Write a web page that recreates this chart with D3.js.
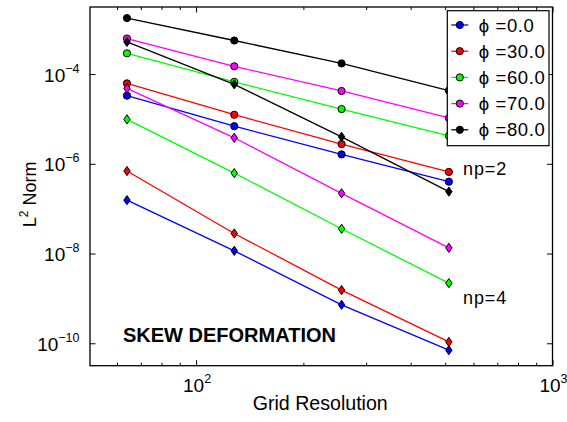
<!DOCTYPE html>
<html>
<head>
<meta charset="utf-8">
<script src="https://cdn.jsdelivr.net/npm/d3@7"></script>
<style>
  body { margin: 0; background: #fff; }
  svg { font-family: "Liberation Sans", Arial, sans-serif; }
</style>
</head>
<body>
<div id="chart"></div>
<script>
// grid sizes
var resolution = [64, 128, 256, 512];
var phiLabels = ["0.0", "30.0", "60.0", "70.0", "80.0"];
var colors = ["#0000ff", "#ff0000", "#00ff00", "#ff00ff", "#000000"];

// np=2 runs (circles)
var np2_phi0  = [3.3e-5, 6.9e-6, 1.62e-6, 4.0e-7];
var np2_phi30 = [6.2e-5, 1.24e-5, 2.75e-6, 6.6e-7];
var np2_phi60 = [2.9e-4, 6.7e-5, 1.66e-5, 4.2e-6];
var np2_phi70 = [6.2e-4, 1.49e-4, 4.2e-5, 1.05e-5];
var np2_phi80 = [1.77e-3, 5.6e-4, 1.73e-4, 4.3e-5];

// np=4 runs (diamonds)
var np4_phi0  = [1.55e-7, 1.15e-8, 7.2e-10, 7.0e-11];
var np4_phi30 = [6.9e-7, 2.8e-8, 1.53e-9, 1.07e-10];
var np4_phi60 = [9.8e-6, 6.2e-7, 3.56e-8, 2.19e-9];
var np4_phi70 = [4.8e-5, 3.8e-6, 2.2e-7, 1.34e-8];
var np4_phi80 = [5.2e-4, 5.9e-5, 4.0e-6, 2.4e-7];

var np2 = [np2_phi0, np2_phi30, np2_phi60, np2_phi70, np2_phi80];
var np4 = [np4_phi0, np4_phi30, np4_phi60, np4_phi70, np4_phi80];

// tick values
var xMajor = [100, 1000];
var xMinor = [60, 70, 80, 90, 200, 300, 400, 500, 600, 700, 800, 900];
var yMajor = [1e-4, 1e-6, 1e-8, 1e-10];

var svgWidth = 567;
var svgHeight = 422;
var margin = { top: 7, right: 14.5, bottom: 56.3, left: 90 };
var width = svgWidth - margin.left - margin.right;
var height = svgHeight - margin.top - margin.bottom;

var svg = d3.select("#chart")
    .append("svg")
    .attr("width", svgWidth)
    .attr("height", svgHeight);

var chartGroup = svg.append("g")
    .attr("transform", `translate(${margin.left},${margin.top})`);

var xScale = d3.scaleLog()
    .domain([50.4, 1000])
    .range([0, width]);

var yScale = d3.scaleLog()
    .domain([Math.pow(10, -10.5), Math.pow(10, -2.505)])
    .range([height, 0]);

// ticks pointing inward, all four sides
function tickAxis(axisFn, scale, values, size, tx, ty) {
    chartGroup.append("g")
        .attr("transform", `translate(${tx},${ty})`)
        .call(axisFn(scale).tickValues(values).tickSize(size).tickFormat(""))
        .call(g => g.select(".domain").remove())
        .selectAll("line").attr("stroke", "#000").attr("stroke-width", 1);
}
tickAxis(d3.axisBottom, xScale, xMajor, -5.5, 0, height);
tickAxis(d3.axisBottom, xScale, xMinor, -3, 0, height);
tickAxis(d3.axisTop, xScale, xMajor, -5.5, 0, 0);
tickAxis(d3.axisTop, xScale, xMinor, -3, 0, 0);
tickAxis(d3.axisLeft, yScale, yMajor, -5.5, 0, 0);
tickAxis(d3.axisRight, yScale, yMajor, -5.5, width, 0);

// frame
chartGroup.append("rect")
    .attr("x", 0).attr("y", 0)
    .attr("width", width).attr("height", height)
    .attr("fill", "none")
    .attr("stroke", "#000")
    .attr("stroke-width", 1.3);

// tick labels with superscript exponents
chartGroup.selectAll(".xlab")
    .data(xMajor)
    .enter()
    .append("text")
    .attr("x", d => xScale(d) + 1)
    .attr("y", height + 26.5)
    .attr("text-anchor", "middle")
    .attr("font-size", "19px")
    .each(function(d) {
        var t = d3.select(this);
        t.append("tspan").text("10");
        t.append("tspan").attr("font-size", "12.5px").attr("dy", -9)
            .text(Math.round(Math.log10(d)));
    });

chartGroup.selectAll(".ylab")
    .data(yMajor)
    .enter()
    .append("text")
    .attr("x", -10.5)
    .attr("y", d => yScale(d) + 7.5)
    .attr("text-anchor", "end")
    .attr("font-size", "19px")
    .each(function(d) {
        var t = d3.select(this);
        t.append("tspan").text("10");
        t.append("tspan").attr("font-size", "12.5px").attr("dy", -9)
            .text("\u2212" + Math.abs(Math.round(Math.log10(d))));
    });

// axis titles
chartGroup.append("text")
    .attr("x", width / 2 - 1)
    .attr("y", height + 44.5)
    .attr("text-anchor", "middle")
    .attr("font-size", "19.6px")
    .text("Grid Resolution");

var yTitle = chartGroup.append("text")
    .attr("transform", `translate(${36 - margin.left},${height / 2 + 8}) rotate(-90)`)
    .attr("text-anchor", "middle")
    .attr("font-size", "18px");
yTitle.append("tspan").text("L");
yTitle.append("tspan").attr("font-size", "12px").attr("dy", -8).text("2");
yTitle.append("tspan").attr("dy", 8).text(" Norm");

var line = d3.line()
    .x((d, i) => xScale(resolution[i]))
    .y(d => yScale(d));

var diamond = "M0,-4.6L3.2,0L0,4.6L-3.2,0Z";

// series: np=2 with circles, np=4 with diamonds
colors.forEach(function(c, k) {
    chartGroup.append("path")
        .datum(np2[k])
        .attr("d", line)
        .attr("fill", "none")
        .attr("stroke", c)
        .attr("stroke-width", 1.3);
    chartGroup.selectAll(".c" + k)
        .data(np2[k])
        .enter()
        .append("circle")
        .attr("cx", (d, i) => xScale(resolution[i]))
        .attr("cy", d => yScale(d))
        .attr("r", 3.6)
        .attr("fill", c)
        .attr("stroke", "#000")
        .attr("stroke-width", 1);

    chartGroup.append("path")
        .datum(np4[k])
        .attr("d", line)
        .attr("fill", "none")
        .attr("stroke", c)
        .attr("stroke-width", 1.3);
    chartGroup.selectAll(".d" + k)
        .data(np4[k])
        .enter()
        .append("path")
        .attr("d", diamond)
        .attr("transform", (d, i) => `translate(${xScale(resolution[i])},${yScale(d)})`)
        .attr("fill", c)
        .attr("stroke", "#000")
        .attr("stroke-width", 1);
});

// annotations
chartGroup.append("text")
    .attr("x", 463 - margin.left)
    .attr("y", 174.5 - margin.top)
    .attr("font-size", "18px")
    .attr("letter-spacing", "0.9px")
    .text("np=2");
chartGroup.append("text")
    .attr("x", 463 - margin.left)
    .attr("y", 304 - margin.top)
    .attr("font-size", "18px")
    .attr("letter-spacing", "0.9px")
    .text("np=4");
chartGroup.append("text")
    .attr("x", 123 - margin.left)
    .attr("y", 341.5 - margin.top)
    .attr("font-size", "20px")
    .attr("font-weight", "bold")
    .text("SKEW DEFORMATION");

// legend
var legend = svg.append("g")
    .attr("transform", "translate(447.3,10.7)");
legend.append("rect")
    .attr("width", 101.7)
    .attr("height", 135)
    .attr("fill", "#fff")
    .attr("stroke", "#000")
    .attr("stroke-width", 1.2);

var rows = legend.selectAll(".row")
    .data(phiLabels)
    .enter()
    .append("g")
    .attr("transform", (d, i) => `translate(0,${14.3 + i * 26.2})`);
rows.append("line")
    .attr("x1", 4).attr("x2", 21)
    .attr("stroke", (d, i) => colors[i])
    .attr("stroke-width", 1.3);
rows.append("circle")
    .attr("cx", 12.5)
    .attr("r", 3.6)
    .attr("fill", (d, i) => colors[i])
    .attr("stroke", "#000");
rows.append("text")
    .attr("x", 31.5)
    .attr("y", 6.5)
    .attr("font-size", "18.5px")
    .attr("letter-spacing", "0.6px")
    .text(d => "\u03d5 =" + d);
</script>
</body>
</html>
